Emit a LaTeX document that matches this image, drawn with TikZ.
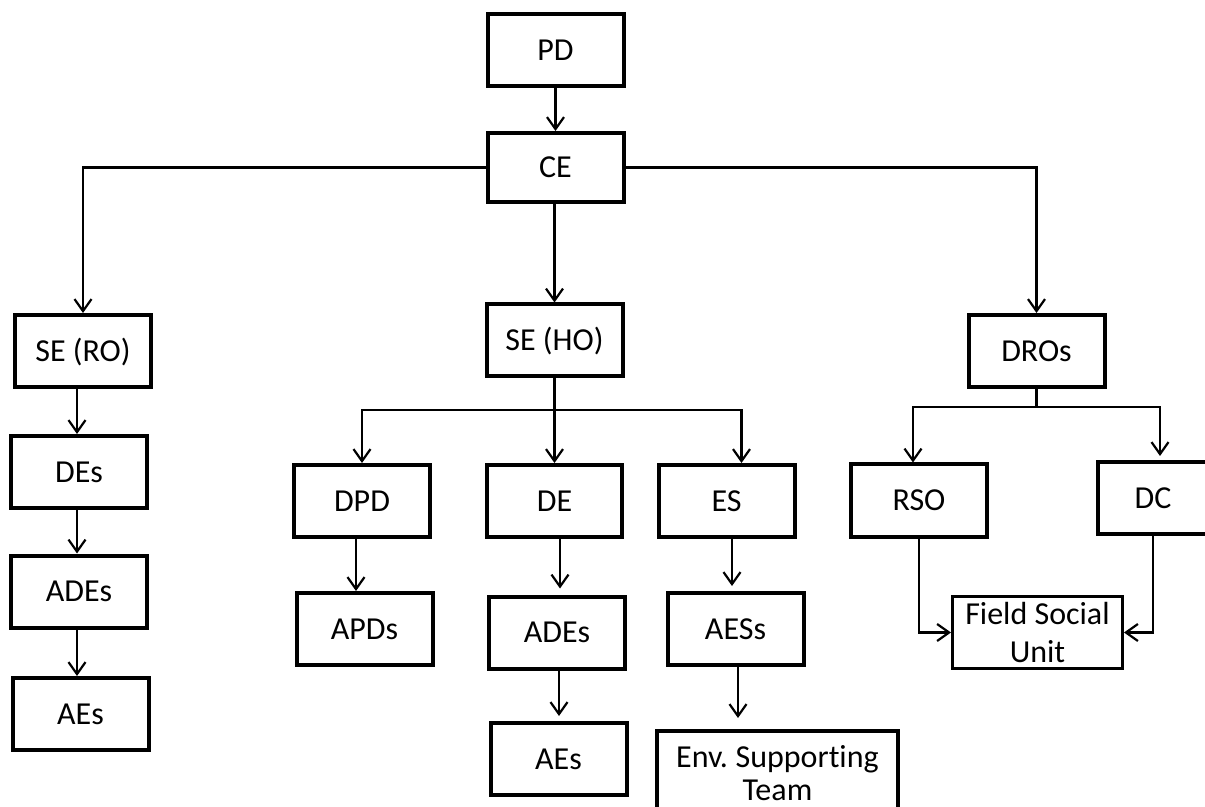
\documentclass[tikz,border=0pt]{standalone}
\usepackage{fontspec}
\setmainfont[Ligatures=NoCommon]{Carlito}
\usetikzlibrary{arrows.meta,calc}
\begin{document}
\begin{tikzpicture}[x=0.5pt,y=-0.5pt,
  bx/.style={draw=black,line width=2pt,minimum width=68pt,minimum height=36pt,inner sep=0pt,font=\fontsize{16}{19}\selectfont},
  box/.style={bx,text height=10.3pt,text depth=0pt},
  arr/.style={-{Straight Barb[length=6pt,width=8.5pt]},line width=1.1pt},
  conn/.style={line width=1.1pt}]
\useasboundingbox (0,0) rectangle (1205,807);
\clip (0,0) rectangle (1205,807);
% nodes
\node[box] (pd) at (555.5,50.5) {PD};
\node[box,minimum height=34.5pt] (ce) at (555.5,167.5) {CE};
\node[box] (sero) at (83,351) {SE (RO)};
\node[box] (seho) at (554.5,340.5) {SE (HO)};
\node[box] (dros) at (1036.5,351) {DROs};
\node[box] (des) at (79,472) {DEs};
\node[box] (adesl) at (79,591.5) {ADEs};
\node[box] (aesl) at (80.5,714) {AEs};
\node[box] (dpd) at (362,501) {DPD};
\node[box,minimum width=67.5pt] (de) at (554.5,501) {DE};
\node[box] (es) at (726.5,501) {ES};
\node[box] (apds) at (364.5,629) {APDs};
\node[box] (adesh) at (557,632.5) {ADEs};
\node[box] (aesh) at (558.5,759) {AEs};
\node[box] (aess) at (735.5,629) {AESs};
\node[bx,anchor=north,minimum width=120.5pt,minimum height=0pt,inner ysep=7pt,text depth=25pt,align=center,font=\fontsize{16}{16.5}\selectfont] (env) at (777.5,729) {Env.\kern-1pt{} Supporting\\Team};
\node[box] (rso) at (919,500.5) {RSO};
\node[box,minimum width=55pt] (dc) at (1153,498) {DC};
\node[bx,line width=1.5pt,minimum width=85pt,minimum height=36pt,align=center] (fsu) at (1037.5,632.5) {Field Social\\Unit};
\coordinate (hob) at (554.5,410);
\coordinate (drb) at (1036.5,407);
% connectors
\draw[arr] (pd) -- (ce);
\draw[arr] (ce.west) -| (sero.north);
\draw[arr] (ce.east) -| (dros.north);
\draw[arr] (ce.south -| seho.north) -- (seho.north);
\draw[arr] ([xshift=-3pt]sero.south) -- ([xshift=-3pt]sero.south |- des.north);
\draw[arr] ([xshift=-1pt]des.south) -- ([xshift=-1pt]adesl.north);
\draw[arr] ([xshift=-1pt]adesl.south) -- ([xshift=-1pt]adesl.south |- aesl.north);
\draw[conn] (seho.south) -- (hob);
\draw[arr] (hob) -- (de.north);
\draw[arr] (hob) -| (dpd.north);
\draw[arr] (hob) -| ([xshift=7.5pt]es.north);
\draw[arr] ([xshift=-3pt]dpd.south) -- ([xshift=-3pt]dpd.south |- apds.north);
\draw[arr,shorten >=3pt] ([xshift=2.75pt]de.south) -- ([xshift=2.75pt]de.south |- adesh.north);
\draw[arr,shorten >=2.5pt] ([xshift=1pt]adesh.south) -- ([xshift=1pt]adesh.south |- aesh.north);
\draw[arr,shorten >=2.5pt] ([xshift=2.75pt]es.south) -- ([xshift=2.75pt]es.south |- aess.north);
\draw[arr,shorten >=5.5pt] ([xshift=1.25pt]aess.south) -- ([xshift=1.25pt]aess.south |- env.north);
\draw[conn] (dros.south) -- (drb);
\draw[arr] (drb) -| ([xshift=-3pt]rso.north);
\draw[arr,shorten >=2pt] (drb) -| ([xshift=3.5pt]dc.north);
\draw[arr] (rso.south) |- (fsu.west);
\draw[arr] (dc.south) |- (fsu.east);
\end{tikzpicture}
\end{document}
